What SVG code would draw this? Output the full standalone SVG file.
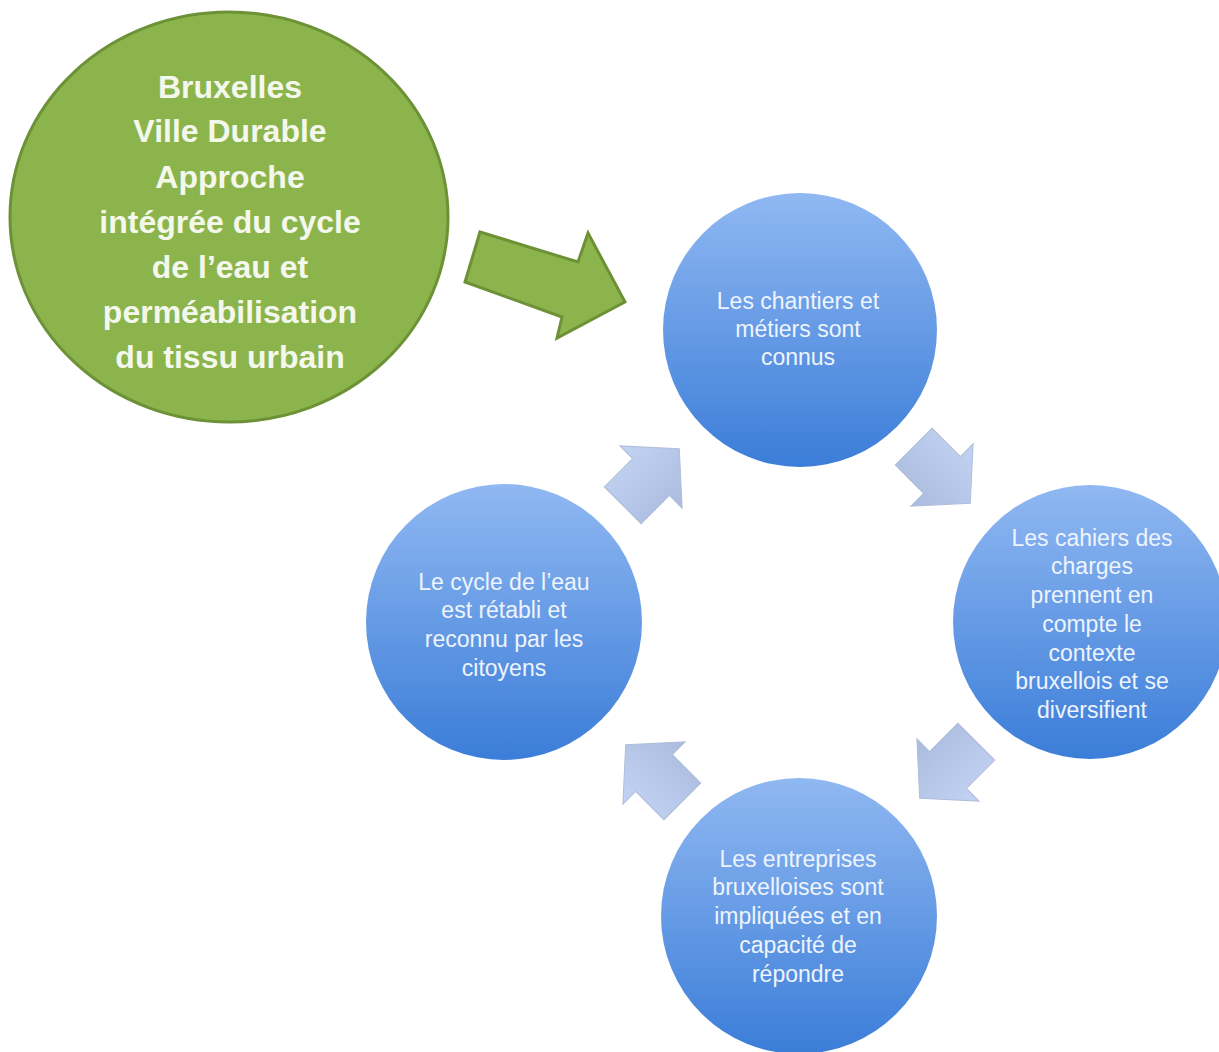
<svg xmlns="http://www.w3.org/2000/svg" width="1219" height="1052" viewBox="0 0 1219 1052">
<defs>
<linearGradient id="blueG" x1="0" y1="0" x2="0" y2="1">
<stop offset="0" stop-color="#90b8f2"/>
<stop offset="1" stop-color="#3b7dd8"/>
</linearGradient>
<linearGradient id="arrG" x1="0" y1="0" x2="0" y2="1" gradientUnits="objectBoundingBox">
<stop offset="0" stop-color="#c3d3f3"/>
<stop offset="1" stop-color="#aabbdf"/>
</linearGradient>
<path id="cyc" d="M40,0 L0,-44 L0,-26 L-40,-26 L-40,26 L0,26 L0,44 Z"/>
</defs>
<style>
.green{fill:#8cb44c;stroke:#6c9136;stroke-width:3}
.blue{fill:url(#blueG)}
.arr{fill:url(#arrG);stroke:#b0bdd8;stroke-width:1}
.gt{font-family:"Liberation Sans",Arial,sans-serif;font-weight:bold;font-size:32px;fill:#f4f8ec;text-anchor:middle}
.bt{font-family:"Liberation Sans",Arial,sans-serif;font-size:23px;fill:#eef4fd;text-anchor:middle}
</style>
<rect width="1219" height="1052" fill="#ffffff"/>

<g id="node-main">
<ellipse class="green" cx="229" cy="217" rx="219" ry="205"/>
<text class="gt" x="230" y="98">Bruxelles</text>
<text class="gt" x="230" y="142">Ville Durable</text>
<text class="gt" x="230" y="188">Approche</text>
<text class="gt" x="230" y="233">intégrée du cycle</text>
<text class="gt" x="230" y="278">de l’eau et</text>
<text class="gt" x="230" y="323">perméabilisation</text>
<text class="gt" x="230" y="368">du tissu urbain</text>
</g>

<g id="node-top">
<circle class="blue" cx="800" cy="330" r="137"/>
<text class="bt" x="798" y="309">Les chantiers et</text>
<text class="bt" x="798" y="337">métiers sont</text>
<text class="bt" x="798" y="365">connus</text>
</g>

<g id="node-right">
<circle class="blue" cx="1090" cy="622" r="137"/>
<text class="bt" x="1092" y="546">Les cahiers des</text>
<text class="bt" x="1092" y="574">charges</text>
<text class="bt" x="1092" y="603">prennent en</text>
<text class="bt" x="1092" y="632">compte le</text>
<text class="bt" x="1092" y="661">contexte</text>
<text class="bt" x="1092" y="689">bruxellois et se</text>
<text class="bt" x="1092" y="718">diversifient</text>
</g>

<g id="node-bottom">
<circle class="blue" cx="799" cy="916" r="138"/>
<text class="bt" x="798" y="867">Les entreprises</text>
<text class="bt" x="798" y="895">bruxelloises sont</text>
<text class="bt" x="798" y="924">impliquées et en</text>
<text class="bt" x="798" y="953">capacité de</text>
<text class="bt" x="798" y="982">répondre</text>
</g>

<g id="node-left">
<circle class="blue" cx="504" cy="622" r="138"/>
<text class="bt" x="504" y="590">Le cycle de l’eau</text>
<text class="bt" x="504" y="618">est rétabli et</text>
<text class="bt" x="504" y="647">reconnu par les</text>
<text class="bt" x="504" y="676">citoyens</text>
</g>

<g id="connectors">
<polygon class="green" points="480,232 578,262 588,233 625,302 557,338 562,317 465,282"/>
<use href="#cyc" class="arr" transform="translate(942,475) rotate(45)"/>
<use href="#cyc" class="arr" transform="translate(948,770) rotate(135)"/>
<use href="#cyc" class="arr" transform="translate(654,773) rotate(-135)"/>
<use href="#cyc" class="arr" transform="translate(651,477) rotate(-45)"/>
</g>
</svg>
